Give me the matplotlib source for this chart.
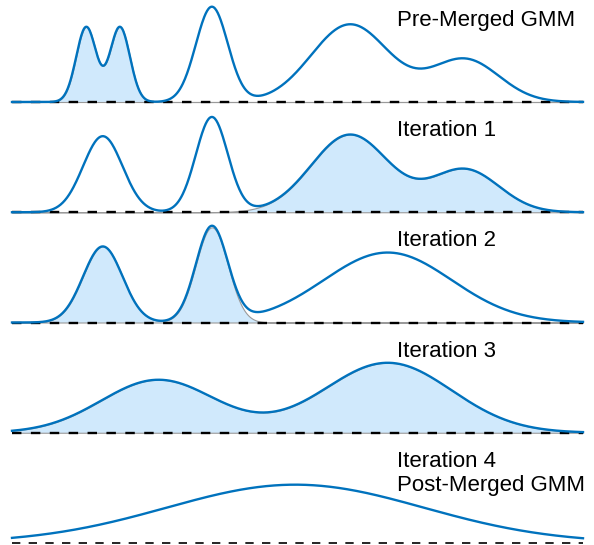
import numpy as np
import matplotlib
matplotlib.use("Agg")
import matplotlib.pyplot as plt

plt.rcParams['font.family'] = ['Liberation Sans', 'DejaVu Sans']

# GMM components for each stage (means, std devs, weights, shaded = merged next)
titles = ["Pre-Merged GMM", "Iteration 1", "Iteration 2", "Iteration 3",
          "Iteration 4\nPost-Merged GMM"]
means = [[1.30, 1.89, 3.50, 5.92, 7.93],
         [1.59, 3.50, 5.92, 7.93],
         [1.59, 3.50, 6.58],
         [2.56, 6.58],
         [4.96]]
sigmas = [[0.175, 0.175, 0.28, 0.68, 0.60],
          [0.345, 0.28, 0.68, 0.60],
          [0.345, 0.28, 1.12],
          [1.0, 1.12],
          [2.25]]
weights = [[0.10, 0.10, 0.203, 0.402, 0.195],
           [0.20, 0.203, 0.402, 0.195],
           [0.20, 0.203, 0.597],
           [0.403, 0.597],
           [1.0]]
shaded = [[1, 1, 0, 0, 0],
          [0, 0, 1, 1],
          [1, 1, 0],
          [1, 1],
          [0]]

blue = "#0072BD"
fill_c = "#D0E9FC"

W, H = 594, 545
fig = plt.figure(figsize=(W / 100, H / 100), dpi=100)

x = np.linspace(0, 10, 800)
scale = 1 / 329.0  # density units per pixel
px = 57.1          # pixels per x unit

def gauss(x, m, s, w):
    return w * np.exp(-0.5 * ((x - m) / s) ** 2) / (s * np.sqrt(2 * np.pi))

for i in range(5):
    base_px = 102 + 110.25 * i
    ax = fig.add_axes([0, 1 - (base_px + 2) / H, 1, 106 / H])
    total = np.zeros_like(x)
    part = np.zeros_like(x)
    for m, s, w, sh in zip(means[i], sigmas[i], weights[i], shaded[i]):
        g = gauss(x, m, s, w)
        total += g
        if sh:
            part += g
    if any(shaded[i]):
        ax.fill_between(x, 0, part, facecolor=fill_c, edgecolor="#9a9a9a",
                        linewidth=0.8, zorder=1)
    if i < 4:
        ax.plot([0, 10], [0, 0], color="black", linestyle=(0, (4, 4)),
                linewidth=1.7, zorder=2)
    else:
        ax.plot([0, 10], [0, 0], color="black", linestyle=(0, (5, 5)),
                linewidth=1.2, zorder=2)
    ax.plot(x, total, color=blue, linewidth=1.7, zorder=3)
    ax.set_xlim(-12 / px, 10 + 11 / px)
    ax.set_ylim(-2 * scale, 104 * scale)
    ax.axis("off")
    ax.text((397 - 12) / px, 92 * scale, titles[i],
            fontsize=16, ha="left", va="top", linespacing=1.2)

fig.savefig("out.png", dpi=100)
